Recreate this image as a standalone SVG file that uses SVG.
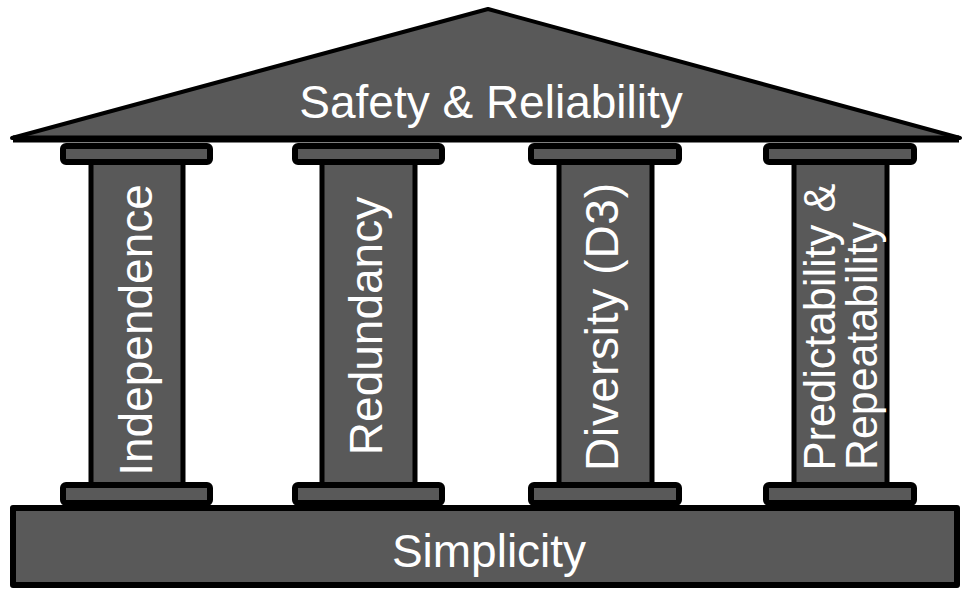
<svg xmlns="http://www.w3.org/2000/svg" width="963" height="590" viewBox="0 0 963 590">
<style>
.g{fill:#595959;stroke:#000;stroke-linejoin:round}
.t{fill:#fff;font-family:"Liberation Sans",Arial,sans-serif;font-size:46px;text-anchor:middle}
</style>
<rect width="963" height="590" fill="#fff"/>
<g id="roof">
<polygon class="g" stroke-width="4" points="12,138 488,9 960,138"/>
<line x1="13" y1="139" x2="959" y2="139" stroke="#000" stroke-width="7"/>
<text class="t" x="491" y="118">Safety &amp; Reliability</text>
</g>
<g id="base">
<rect class="g" stroke-width="6" x="13" y="508" width="944" height="77"/>
<text class="t" x="489" y="567">Simplicity</text>
</g>
<g id="pillar-independence">
<rect class="g" stroke-width="5" x="91" y="160" width="92" height="326"/>
<rect class="g" stroke-width="6" x="63" y="146" width="147" height="16" rx="3"/>
<rect class="g" stroke-width="6" x="63" y="485" width="147" height="18" rx="3"/>
<text class="t" transform="translate(152,330) rotate(-90)">Independence</text>
</g>
<g id="pillar-redundancy">
<rect class="g" stroke-width="5" x="322" y="160" width="93" height="326"/>
<rect class="g" stroke-width="6" x="295" y="146" width="147" height="16" rx="3"/>
<rect class="g" stroke-width="6" x="295" y="485" width="147" height="18" rx="3"/>
<text class="t" transform="translate(382,326) rotate(-90)">Redundancy</text>
</g>
<g id="pillar-diversity">
<rect class="g" stroke-width="5" x="559" y="160" width="93" height="326"/>
<rect class="g" stroke-width="6" x="531" y="146" width="148" height="16" rx="3"/>
<rect class="g" stroke-width="6" x="531" y="485" width="148" height="18" rx="3"/>
<text class="t" transform="translate(618,327) rotate(-90)" textLength="288" lengthAdjust="spacing">Diversity (D3)</text>
</g>
<g id="pillar-predictability">
<rect class="g" stroke-width="5" x="794" y="160" width="93" height="326"/>
<rect class="g" stroke-width="6" x="766" y="146" width="148" height="16" rx="3"/>
<rect class="g" stroke-width="6" x="766" y="485" width="148" height="18" rx="3"/>
<text class="t" style="font-size:44px" transform="translate(835,327) rotate(-90)" textLength="287" lengthAdjust="spacingAndGlyphs">Predictability &amp;</text>
<text class="t" style="text-anchor:start;font-size:44px" transform="translate(877,470) rotate(-90)" textLength="248" lengthAdjust="spacingAndGlyphs">Repeatability</text>
</g>
<g id="connectors"></g>
</svg>
